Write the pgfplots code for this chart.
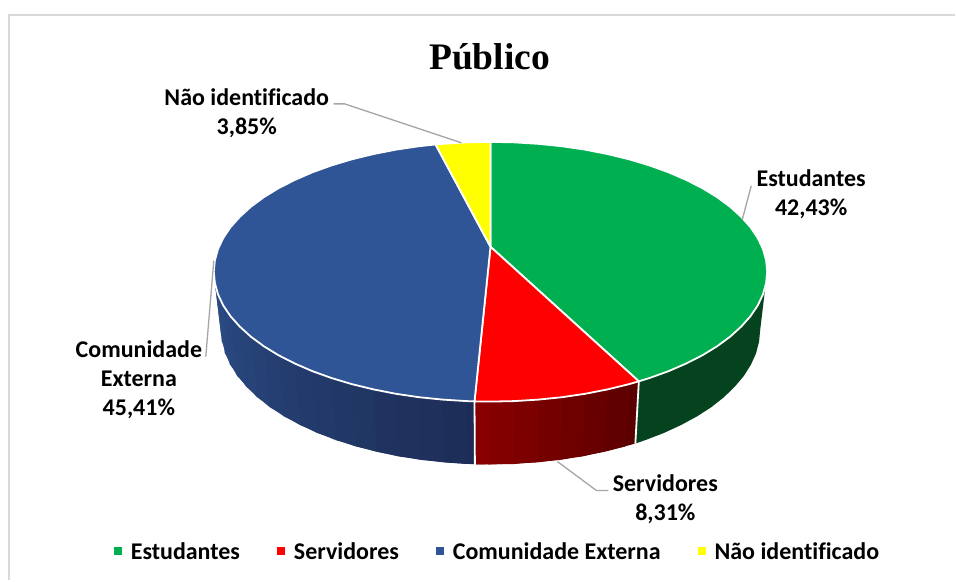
\documentclass[border=0pt]{standalone}
\usepackage{fontspec}
\usepackage{pgfplots}
\pgfplotsset{compat=1.18}
\setmainfont{Carlito}[Ligatures=NoCommon]
\newfontfamily\titlefont{Liberation Serif}
\definecolor{cG}{HTML}{00B050}
\definecolor{cR}{HTML}{FF0000}
\definecolor{cB}{HTML}{2F5597}
\definecolor{cY}{HTML}{FFFF00}
\definecolor{cGs}{HTML}{05431F}
\definecolor{cRl}{HTML}{8B0000}
\definecolor{cRr}{HTML}{5A0000}
\definecolor{cBl}{HTML}{2C4E88}
\definecolor{cBr}{HTML}{1C2C55}
\definecolor{cLead}{HTML}{A6A6A6}
\definecolor{cFrame}{HTML}{D9D9D9}
\newcommand\sd[9]{\addplot[forget plot,fill=#1,draw=none] coordinates {(#2,#3)(#4,#5)(#6,#7)(#8,#9)} --cycle;}
\tikzset{
  lab/.style={font=\fontsize{24}{29}\selectfont\bfseries,align=center,text=black,inner sep=0pt}
}
\begin{document}
\begin{tikzpicture}
\begin{axis}[
  scale only axis,width=956pt,height=581pt,
  xmin=0,xmax=956,ymin=0,ymax=581,y dir=reverse,
  hide axis,clip=false,
  legend columns=4,
  legend cell align=left,
  legend style={at={(axis cs:498,552)},anchor=center,draw=none,fill=none,
    font=\fontsize{24}{28}\selectfont\bfseries,
    /tikz/every even column/.append style={column sep=35pt},
    /tikz/every odd column/.append style={column sep=7pt}},
  legend image code/.code={\path[#1,draw=none] (0pt,-4pt) rectangle (8pt,4pt);},
]
% background and frame
\addplot[forget plot,fill=white,draw=none] coordinates {(0,0)(956,0)(956,581)(0,581)} --cycle;
\addplot[forget plot,draw=cFrame,line width=2pt] coordinates {(9.5,581)(9.5,15)(956,15)};
% green side
\addplot[forget plot,fill=cGs,draw=none] coordinates {
(768,272)(766.9,283.3)(763.8,294.6)(758.6,305.6)(751.3,316.5)(742,326.9)(730.9,337)(717.9,346.6)(703.2,355.6)(686.9,363.9)(669.1,371.6)(649.9,378.5)(639.5,381.7)
(636,444)(645.9,440.6)(664.6,433.4)(681.9,425.4)(697.8,416.8)(712.2,407.5)(724.8,397.5)(735.6,387)(744.7,376.2)(751.8,364.9)(756.9,353.5)(759.9,341.7)(761,330)} --cycle;
% red side (each strip runs under the next one)
\sd{cRl!3!cRr}{639.5}{381.7}{608.1}{389.8}{605.1}{452.3}{636}{444}
\sd{cRl!13!cRr}{629.5}{384.6}{585.7}{394.2}{583.3}{456.9}{626}{446.9}
\sd{cRl!28!cRr}{608.1}{389.8}{562.7}{397.6}{560.9}{460.4}{605.1}{452.3}
\sd{cRl!42!cRr}{585.7}{394.2}{539.1}{400}{537.9}{462.9}{583.3}{456.9}
\sd{cRl!56!cRr}{562.7}{397.6}{515.1}{401.5}{514.5}{464.5}{560.9}{460.4}
\sd{cRl!70!cRr}{539.1}{400}{491}{402}{491}{465}{537.9}{462.9}
\sd{cRl!84!cRr}{515.1}{401.5}{475}{401.8}{475.4}{464.8}{514.5}{464.5}
\sd{cRl!95!cRr}{491}{402}{475}{401.8}{475.4}{464.8}{491}{465}
% blue side (each strip runs under the next one)
\sd{cBl!1!cBr}{475}{401.8}{442.9}{400}{444.1}{462.9}{475.4}{464.8}
\sd{cBl!5!cBr}{466.9}{401.5}{419.3}{397.6}{421.1}{460.4}{467.5}{464.5}
\sd{cBl!11!cBr}{442.9}{400}{396.3}{394.2}{398.7}{456.9}{444.1}{462.9}
\sd{cBl!16!cBr}{419.3}{397.6}{373.9}{389.8}{376.9}{452.3}{421.1}{460.4}
\sd{cBl!22!cBr}{396.3}{394.2}{352.5}{384.6}{356}{446.9}{398.7}{456.9}
\sd{cBl!28!cBr}{373.9}{389.8}{332.1}{378.5}{336.1}{440.6}{376.9}{452.3}
\sd{cBl!34!cBr}{352.5}{384.6}{312.9}{371.6}{317.4}{433.4}{356}{446.9}
\sd{cBl!39!cBr}{332.1}{378.5}{295.1}{363.9}{300.1}{425.4}{336.1}{440.6}
\sd{cBl!45!cBr}{312.9}{371.6}{278.8}{355.6}{284.2}{416.8}{317.4}{433.4}
\sd{cBl!51!cBr}{295.1}{363.9}{264.1}{346.6}{269.8}{407.5}{300.1}{425.4}
\sd{cBl!57!cBr}{278.8}{355.6}{251.1}{337}{257.2}{397.5}{284.2}{416.8}
\sd{cBl!62!cBr}{264.1}{346.6}{240}{326.9}{246.4}{387}{269.8}{407.5}
\sd{cBl!68!cBr}{251.1}{337}{230.7}{316.5}{237.3}{376.2}{257.2}{397.5}
\sd{cBl!74!cBr}{240}{326.9}{223.4}{305.6}{230.2}{364.9}{246.4}{387}
\sd{cBl!80!cBr}{230.7}{316.5}{218.2}{294.6}{225.1}{353.5}{237.3}{376.2}
\sd{cBl!86!cBr}{223.4}{305.6}{215.1}{283.3}{222.1}{341.7}{230.2}{364.9}
\sd{cBl!91!cBr}{218.2}{294.6}{214}{272}{221}{330}{225.1}{353.5}
\sd{cBl!97!cBr}{215.1}{283.3}{214}{272}{221}{330}{222.1}{341.7}
% top wedges
\addplot[forget plot,fill=cG,draw=white,line width=1.8pt,line join=round] coordinates {(491,247)(491,142)(515.1,142.5)(539.1,144)(562.7,146.4)(585.7,149.8)(608.1,154.2)(629.5,159.4)(649.9,165.5)(669.1,172.4)(686.9,180.1)(703.2,188.4)(717.9,197.4)(730.9,207)(742,217.1)(751.3,227.5)(758.6,238.4)(763.8,249.4)(766.9,260.7)(768,272)(766.9,283.3)(763.8,294.6)(758.6,305.6)(751.3,316.5)(742,326.9)(730.9,337)(717.9,346.6)(703.2,355.6)(686.9,363.9)(669.1,371.6)(649.9,378.5)(639.5,381.7)} --cycle;
\addplot[forget plot,fill=cR,draw=white,line width=1.8pt,line join=round] coordinates {(491,247)(639.5,381.7)(629.5,384.6)(608.1,389.8)(585.7,394.2)(562.7,397.6)(539.1,400)(515.1,401.5)(491,402)(475,401.8)} --cycle;
\addplot[forget plot,fill=cB,draw=white,line width=1.8pt,line join=round] coordinates {(491,247)(475,401.8)(466.9,401.5)(442.9,400)(419.3,397.6)(396.3,394.2)(373.9,389.8)(352.5,384.6)(332.1,378.5)(312.9,371.6)(295.1,363.9)(278.8,355.6)(264.1,346.6)(251.1,337)(240,326.9)(230.7,316.5)(223.4,305.6)(218.2,294.6)(215.1,283.3)(214,272)(215.1,260.7)(218.2,249.4)(223.4,238.4)(230.7,227.5)(240,217.1)(251.1,207)(264.1,197.4)(278.8,188.4)(295.1,180.1)(312.9,172.4)(332.1,165.5)(352.5,159.4)(373.9,154.2)(396.3,149.8)(419.3,146.4)(436,144.6)} --cycle;
\addplot[forget plot,fill=cY,draw=white,line width=1.8pt,line join=round] coordinates {(491,247)(436,144.6)(442.9,144)(466.9,142.5)(491,142)} --cycle;
% side dividers
\addplot[forget plot,draw=white,line width=1.8pt] coordinates {(639.5,381.7)(636,444)};
\addplot[forget plot,draw=white,line width=1.8pt] coordinates {(475,401.8)(475.4,465.5)};
% leader lines
\addplot[forget plot,draw=cLead,line width=1.3pt] coordinates {(334,104)(345,104)(462,143)};
\addplot[forget plot,draw=cLead,line width=1.3pt] coordinates {(752,186)(743,220)};
\addplot[forget plot,draw=cLead,line width=1.3pt] coordinates {(206,357)(214,261)};
\addplot[forget plot,draw=cLead,line width=1.3pt] coordinates {(558,462)(597,491)(609,491)};
% legend
\addlegendimage{fill=cG}\addlegendentry{Estudantes}
\addlegendimage{fill=cR}\addlegendentry{Servidores}
\addlegendimage{fill=cB}\addlegendentry{Comunidade Externa}
\addlegendimage{fill=cY}\addlegendentry{Não identificado}
% text
\node[font=\titlefont\fontsize{37.5}{40}\selectfont\bfseries,inner sep=0pt] at (axis cs:490,57) {Público};
\node[lab] at (axis cs:247,113) {Não identificado\\3,85\%};
\node[lab] at (axis cs:812,194) {Estudantes\\42,43\%};
\node[lab] at (axis cs:139,380) {Comunidade\\Externa\\45,41\%};
\node[lab] at (axis cs:666,500) {Servidores\\8,31\%};
\end{axis}
\end{tikzpicture}
\end{document}
